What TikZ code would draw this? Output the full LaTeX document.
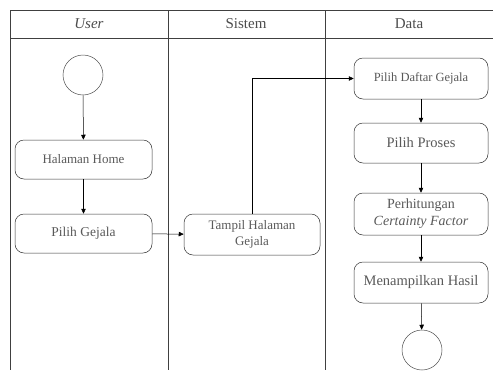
\documentclass[tikz,border=0pt]{standalone}
\usepackage{fontspec}
\setmainfont{Liberation Serif}
\usetikzlibrary{arrows.meta}
\begin{document}
\begin{tikzpicture}[x=1pt,y=-1pt,
  lane/.style={draw=black!75,line width=0.6pt},
  act/.style={draw=black!80,line width=0.5pt,rounded corners=9pt,minimum width=136pt,minimum height=40pt,inner sep=2pt,align=center,text=black!65},
  endpt/.style={draw=black!70,line width=0.5pt,circle,minimum size=40pt,inner sep=0pt},
  flow/.style={draw=black,line width=0.5pt,-{Triangle[length=5pt,width=4.5pt]}},
  hdr/.style={text=black!70,font=\fontsize{15}{17}\selectfont}]
\useasboundingbox (0,0) rectangle (493,370);
% swimlanes
\draw[lane] (10,10) -- (493,10);
\draw[lane] (10,38) -- (493,38);
\draw[lane] (10,10) -- (10,370);
\draw[lane] (168,10) -- (168,370);
\draw[lane] (325,10) -- (325,370);
\node[hdr] (hUser) at (89,24) {\itshape User};
\node[hdr] (hSistem) at (246,24) {Sistem};
\node[hdr] (hData) at (409,24) {Data};
% nodes
\node[endpt] (start) at (83,75) {};
\node[act,font=\fontsize{13}{15}\selectfont,minimum height=39pt,minimum width=137pt] (home) at (83.5,159.5) {Halaman Home};
\node[act,font=\fontsize{13.5}{15}\selectfont,minimum height=39pt,minimum width=137pt] (gejala) at (83.5,233.5) {Pilih Gejala};
\node[act,font=\fontsize{13}{15.5}\selectfont,minimum height=41pt] (tampil) at (252,234.5) {Tampil Halaman\\Gejala};
\node[act,font=\fontsize{12.5}{15}\selectfont,minimum height=41pt,minimum width=134pt] (daftar) at (421,78.5) {Pilih Daftar Gejala};
\node[act,font=\fontsize{14.5}{16}\selectfont,minimum width=134pt] (proses) at (421,143) {Pilih Proses};
\node[act,font=\fontsize{14}{17}\selectfont,minimum height=42pt,minimum width=134pt] (hitung) at (421,214) {Perhitungan\\\textit{Certainty Factor}};
\node[act,font=\fontsize{14.5}{16}\selectfont,minimum height=41pt,minimum width=134pt] (hasil) at (421,282.5) {Menampilkan Hasil};
\node[endpt] (finish) at (422,350) {};
% connectors
\draw[flow] (start) -- (home);
\draw[flow] (home) -- (gejala);
\draw[flow] (gejala) -- (tampil);
\draw[flow] (tampil.north) |- (daftar.west);
\draw[flow] (daftar) -- (proses);
\draw[flow] (proses) -- (hitung);
\draw[flow] (hitung) -- (hasil);
\draw[flow] (hasil) -- (finish);
\end{tikzpicture}
\end{document}
